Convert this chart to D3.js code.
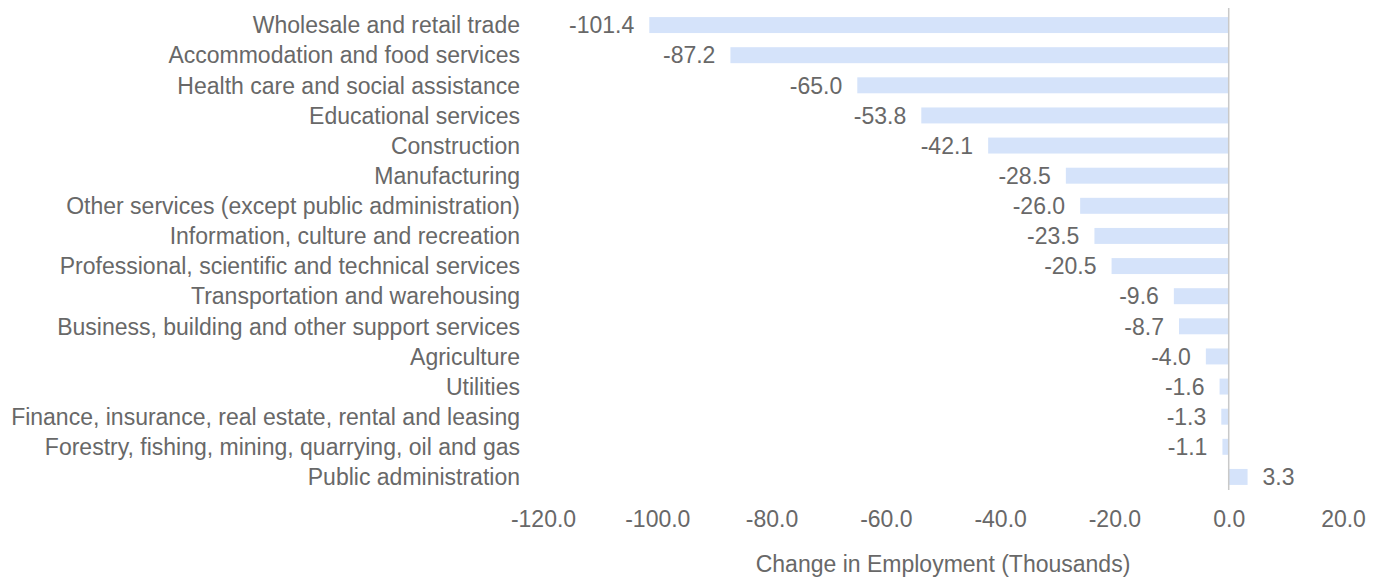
<!DOCTYPE html>
<html>
<head>
<meta charset="utf-8">
<script src="https://cdn.jsdelivr.net/npm/d3@7"></script>
<style>
  body { margin: 0; background: #fff; }
  text { font-family: "Liberation Sans", Arial, sans-serif; fill: #686868; }
</style>
</head>
<body>
<div id="chart"></div>
<script>
// industries, top to bottom
const industries = [
  "Wholesale and retail trade",
  "Accommodation and food services",
  "Health care and social assistance",
  "Educational services",
  "Construction",
  "Manufacturing",
  "Other services (except public administration)",
  "Information, culture and recreation",
  "Professional, scientific and technical services",
  "Transportation and warehousing",
  "Business, building and other support services",
  "Agriculture",
  "Utilities",
  "Finance, insurance, real estate, rental and leasing",
  "Forestry, fishing, mining, quarrying, oil and gas",
  "Public administration"
];
const changes = [-101.4, -87.2, -65.0, -53.8, -42.1, -28.5, -26.0, -23.5, -20.5, -9.6, -8.7, -4.0, -1.6, -1.3, -1.1, 3.3];
const xTicks = [-120, -100, -80, -60, -40, -20, 0, 20];

const width = 1381, height = 578;
const fs = "23px";
const fmt = v => v.toFixed(1); // plain hyphen minus like the original

const svg = d3.select("#chart").append("svg")
  .attr("width", width)
  .attr("height", height);

const x = d3.scaleLinear()
  .domain([-120, 20])
  .range([543, 1343]);

const y = d3.scaleBand()
  .domain(industries)
  .range([10, 492])
  .paddingInner(0.47)
  .paddingOuter(0.235);

const data = industries.map((d, i) => ({name: d, value: changes[i]}));

// bars
svg.selectAll("rect.bar")
  .data(data).enter()
  .append("rect")
  .attr("class", "bar")
  .attr("x", d => x(Math.min(0, d.value)))
  .attr("y", d => y(d.name))
  .attr("width", d => Math.abs(x(d.value) - x(0)))
  .attr("height", y.bandwidth())
  .attr("fill", "#d5e3fa");

// zero line
svg.append("line")
  .attr("x1", x(0)).attr("x2", x(0))
  .attr("y1", 8).attr("y2", 490)
  .attr("stroke", "#c9c9c9")
  .attr("stroke-width", 1.5);

// value labels
svg.selectAll("text.val")
  .data(data).enter()
  .append("text")
  .attr("class", "val")
  .attr("x", d => d.value < 0 ? x(d.value) - 15 : x(d.value) + 15)
  .attr("y", d => y(d.name) + y.bandwidth() / 2)
  .attr("dy", "0.36em")
  .attr("text-anchor", d => d.value < 0 ? "end" : "start")
  .style("font-size", fs)
  .text(d => fmt(d.value));

// category labels
svg.selectAll("text.cat")
  .data(data).enter()
  .append("text")
  .attr("class", "cat")
  .attr("x", 520)
  .attr("y", d => y(d.name) + y.bandwidth() / 2)
  .attr("dy", "0.36em")
  .attr("text-anchor", "end")
  .style("font-size", fs)
  .text(d => d.name);

// x axis
const xAxis = svg.append("g")
  .attr("transform", "translate(0,506)")
  .call(d3.axisBottom(x).tickValues(xTicks).tickFormat(fmt).tickSize(0).tickPadding(5));
xAxis.select(".domain").remove();
xAxis.selectAll("text")
  .style("font-size", fs)
  .attr("fill", "#686868");

// axis title
svg.append("text")
  .attr("x", 943)
  .attr("y", 564)
  .attr("dy", "0.36em")
  .attr("text-anchor", "middle")
  .style("font-size", fs)
  .text("Change in Employment (Thousands)");
</script>
</body>
</html>
